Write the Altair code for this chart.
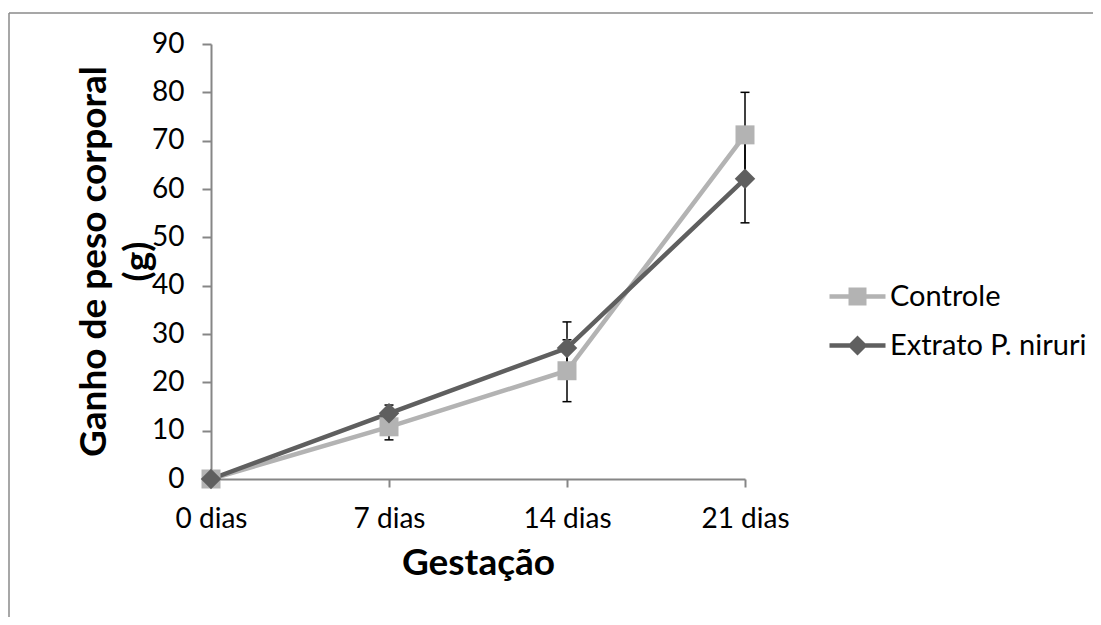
import altair as alt
import pandas as pd

days = [0, 7, 14, 21]
series_names = ["Controle", "Extrato P. niruri"]
controle = [0, 10.8, 22.4, 71.2]
controle_err = [0, 2.7, 6.4, 8.8]
extrato = [0, 13.6, 27.1, 62.1]
extrato_err = [0, 1.7, 5.4, 9.1]
y_ticks = list(range(0, 91, 10))

LIGHT = "#b3b3b3"
DARK = "#5f5f5f"
AXIS = "#868686"
FONT = "Lato"

rows = []
for name, vals, errs in [(series_names[0], controle, controle_err), (series_names[1], extrato, extrato_err)]:
    for d, v, e in zip(days, vals, errs):
        rows.append({"day": d, "series": name, "value": v, "err": e, "lo": v - e, "hi": v + e})
df = pd.DataFrame(rows)

caps = []
for r in rows:
    if r["err"] > 0:
        caps.append({"day": r["day"], "series": r["series"], "cap": r["hi"]})
        caps.append({"day": r["day"], "series": r["series"], "cap": r["lo"]})
caps_df = pd.DataFrame(caps)

x_axis = alt.Axis(values=days, labelExpr="datum.value + ' dias'", title="Gestação",
                  labelFlush=False, labelOverlap=False, tickSize=8, labelPadding=18,
                  titleFontSize=37, titleFontWeight="bold", titleFont=FONT,
                  titleY=84, titleBaseline="middle", titlePadding=0)
y_axis = alt.Axis(values=y_ticks, title=["Ganho de peso corporal", "(g)"],
                  labelFlush=False, labelOverlap=False, tickSize=9, labelPadding=18,
                  titleFontSize=37, titleFontWeight="bold", titleFont=FONT,
                  titleLineHeight=44, titleX=-117, titleY=217, titleBaseline="middle",
                  titleAlign="center", titleAngle=270)

xs = alt.Scale(domain=[0, 21], nice=False, zero=False)
ys = alt.Scale(domain=[0, 90], nice=False)

X = alt.X("day:Q", scale=xs, axis=x_axis)


def Y(field):
    return alt.Y(field, type="quantitative", scale=ys, axis=y_axis)


base = alt.Chart(df)

line_c = base.transform_filter(alt.datum.series == series_names[0]).mark_line(
    color=LIGHT, strokeWidth=4.5).encode(x=X, y=Y("value"))
line_e = base.transform_filter(alt.datum.series == series_names[1]).mark_line(
    color=DARK, strokeWidth=4.5).encode(x=X, y=Y("value"))

err_stem = base.transform_filter(alt.datum.err > 0).mark_rule(
    color="black", strokeWidth=1.5).encode(x=X, y=Y("lo"), y2="hi")
err_cap = alt.Chart(caps_df).mark_rule(
    color="black", strokeWidth=1.5, xOffset=-4.5, x2Offset=4.5).encode(
    x=X, x2="day", y=Y("cap"))

pt_c = base.transform_filter(alt.datum.series == series_names[0]).mark_point(
    shape="square", filled=True, size=361, color=LIGHT, opacity=1).encode(x=X, y=Y("value"))
pt_e = base.transform_filter(alt.datum.series == series_names[1]).mark_point(
    shape="diamond", filled=True, size=420, color=DARK, opacity=1).encode(x=X, y=Y("value"))

sym_c = "M-2.8,-0.22L2.8,-0.22L2.8,0.22L-2.8,0.22Z M-0.9,-0.9L0.9,-0.9L0.9,0.9L-0.9,0.9Z"
sym_e = "M-2.8,-0.22L2.8,-0.22L2.8,0.22L-2.8,0.22Z M-1,0L0,-1L1,0L0,1Z"

legend = alt.Legend(title=None, orient="none", legendX=632, legendY=238,
                    symbolSize=400, symbolStrokeWidth=0, symbolOpacity=1,
                    labelFontSize=29, labelFont=FONT, labelColor="black",
                    labelOffset=18, rowPadding=19, labelLimit=400)
legend_layer = base.transform_filter("false").mark_point(filled=True, opacity=1).encode(
    x=X, y=Y("value"),
    color=alt.Color("series:N", scale=alt.Scale(domain=series_names, range=[LIGHT, DARK]), legend=legend),
    shape=alt.Shape("series:N", scale=alt.Scale(domain=series_names, range=[sym_c, sym_e]), legend=legend),
)

one = alt.Chart(pd.DataFrame({"a": [0]}))
border_top = one.mark_rule(color="#8a8a8a", strokeWidth=1.5).encode(
    x=alt.value(-202), x2=alt.value(1300), y=alt.value(-31))
border_left = one.mark_rule(color="#8a8a8a", strokeWidth=1.5).encode(
    x=alt.value(-202), y=alt.value(-31), y2=alt.value(1000))

chart = alt.layer(border_top, border_left, line_c, line_e, err_stem, err_cap, pt_c, pt_e, legend_layer).properties(
    width=534, height=435,
    autosize=alt.AutoSizeParams(type="none"),
    padding={"left": 203, "top": 36, "right": 348, "bottom": 138},
).configure_view(stroke=None).configure_axis(
    domainColor=AXIS, domainWidth=2, tickColor=AXIS, tickWidth=2, grid=False,
    labelFont=FONT, labelFontSize=28, labelColor="black", titleColor="black",
)

chart.save("out.html", embed_options={"renderer": "svg", "actions": False})
